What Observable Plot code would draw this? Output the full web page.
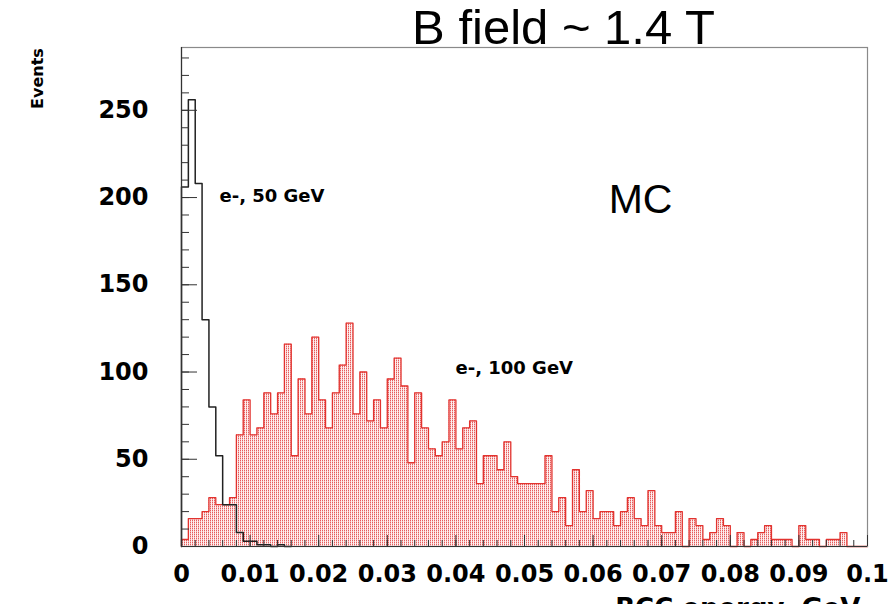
<!DOCTYPE html>
<html><head><meta charset="utf-8">
<script src="https://cdn.jsdelivr.net/npm/d3@7"></script>
<script src="https://cdn.jsdelivr.net/npm/@observablehq/plot@0.6"></script>
<style>
html,body{margin:0;padding:0;background:#fff;}
#chart svg{display:block;}
</style></head><body><div id="chart"></div>
<script>
// ---- data (bin width 0.001 GeV, 100 bins from 0 to 0.1) ----
const binWidth = 0.001;
const xDomain = [0, 0.1];
const yDomain = [0, 286];

// e-, 100 GeV (red, filled)
const e100 = [
  4,16,16,20,28,24,24,28,64,84, 64,68,88,76,88,116,52,96,76,120,
  84,68,88,104,128,76,100,72,84,68, 96,108,92,48,88,68,56,52,60,84,
  56,68,72,36,52,52,44,60,40,36, 36,36,36,52,20,28,12,44,20,32,
  16,20,20,12,20,28,16,12,32,12, 8,8,20,0,16,12,4,8,16,12,
  0,8,0,4,8,12,4,4,4,0, 12,4,4,0,4,4,8,0,0,0
];
// e-, 50 GeV (black outline)
const e50 = [206,256,208,130,80,52,24,24,8,3,3,1,1,0,1,0];

const xTickValues = [0,0.01,0.02,0.03,0.04,0.05,0.06,0.07,0.08,0.09,0.1];
const xTickLabels = ["0","0.01","0.02","0.03","0.04","0.05","0.06","0.07","0.08","0.09","0.1"];
const yTickValues = [0,50,100,150,200,250];
const yTickLabels = ["0","50","100","150","200","250"];
const xMinorTicks = d3.range(0, 101, 2).map(k => k / 1000);
const yMinorTicks = d3.range(0, 290, 10);

const titleText = "B field ~ 1.4 T";
const yTitle = "Events";
const xTitle = "BCC energy, GeV";
const label50 = "e-, 50 GeV";
const label100 = "e-, 100 GeV";
const mcLabel = "MC";

// ---- build step outlines from the bins ----
function stepPoints(values) {
  const pts = [[0, 0]];
  values.forEach((v, i) => { pts.push([i * binWidth, v]); pts.push([(i + 1) * binWidth, v]); });
  pts.push([values.length * binWidth, 0]);
  return pts;
}
const redPts = stepPoints(e100);
const blackPts = stepPoints(e50);

const W = 889, H = 604;
const mL = 181, mR = 22, mT = 47, mB = 58;
const fw = W - mL - mR, fh = H - mT - mB;
const bold = {fontFamily: "DejaVu Sans", fontWeight: "bold", fill: "black", lineAnchor: "middle"};

const svg = Plot.plot({
  width: W, height: H,
  marginLeft: mL, marginRight: mR, marginTop: mT, marginBottom: mB,
  x: {domain: xDomain, axis: null},
  y: {domain: yDomain, axis: null},
  style: {background: "white"},
  marks: [
    Plot.areaY(redPts, {x: d => d[0], y1: 0, y2: d => d[1], fill: "url(#redDots)", curve: "linear"}),
    Plot.line(redPts, {x: d => d[0], y: d => d[1], stroke: "#e2332f", strokeWidth: 1.3, curve: "linear"}),
    Plot.line(blackPts, {x: d => d[0], y: d => d[1], stroke: "#222", strokeWidth: 1.5, curve: "linear"}),
    Plot.frame({stroke: "#8a8a8a", strokeWidth: 1.2}),
    Plot.ruleX([0], {stroke: "#333", strokeWidth: 1.2}),
    Plot.ruleY([0], {stroke: "#333", strokeWidth: 1.2}),
    // ticks
    Plot.tickY(yMinorTicks, {y: d => d, insetRight: fw - 8, stroke: "#333"}),
    Plot.tickY(yTickValues, {y: d => d, insetRight: fw - 16, stroke: "#333"}),
    Plot.tickX(xMinorTicks, {x: d => d, insetTop: fh - 6, stroke: "#333"}),
    Plot.tickX(xTickValues, {x: d => d, insetTop: fh - 11, stroke: "#333"}),
    // tick labels
    Plot.text(xTickValues, {x: d => d, text: (d, i) => xTickLabels[i], frameAnchor: "bottom", dy: 28, textAnchor: "middle", fontSize: 24, ...bold}),
    Plot.text(yTickValues, {y: d => d, text: (d, i) => yTickLabels[i], frameAnchor: "left", dx: -33, textAnchor: "end", fontSize: 24, ...bold}),
    // titles and annotations
    Plot.text([titleText], {text: d => d, frameAnchor: "top-left", dx: 382, dy: -19, textAnchor: "middle", lineAnchor: "middle", fontSize: 49, fontFamily: "Liberation Sans", fill: "black"}),
    Plot.text([mcLabel], {text: d => d, frameAnchor: "top-left", dx: 459, dy: 152, textAnchor: "middle", lineAnchor: "middle", fontSize: 41, fontFamily: "Liberation Sans", fill: "black"}),
    Plot.text([label50], {text: d => d, frameAnchor: "top-left", dx: 38, dy: 149, textAnchor: "start", fontSize: 18, ...bold}),
    Plot.text([label100], {text: d => d, frameAnchor: "top-left", dx: 274, dy: 321, textAnchor: "start", fontSize: 18, ...bold}),
    Plot.text([yTitle], {text: d => d, frameAnchor: "top-left", dx: -144, dy: 31, rotate: -90, textAnchor: "middle", fontSize: 16, ...bold}),
    Plot.text([xTitle], {text: d => d, frameAnchor: "bottom-right", dx: -7, dy: 62, textAnchor: "end", fontSize: 26, ...bold})
  ]
});

const ns = "http://www.w3.org/2000/svg";
const defs = document.createElementNS(ns, "defs");
defs.innerHTML = '<pattern id="redDots" patternUnits="userSpaceOnUse" width="2" height="2">' +
  '<rect width="2" height="2" fill="#fdf0f0"/>' +
  '<rect x="0" y="0" width="1" height="1" fill="#e65c5c"/>' +
  '<rect x="0" y="1" width="1" height="1" fill="#f4b8b8"/></pattern>';
svg.insertBefore(defs, svg.firstChild);
document.getElementById("chart").appendChild(svg);
</script>
</body></html>
